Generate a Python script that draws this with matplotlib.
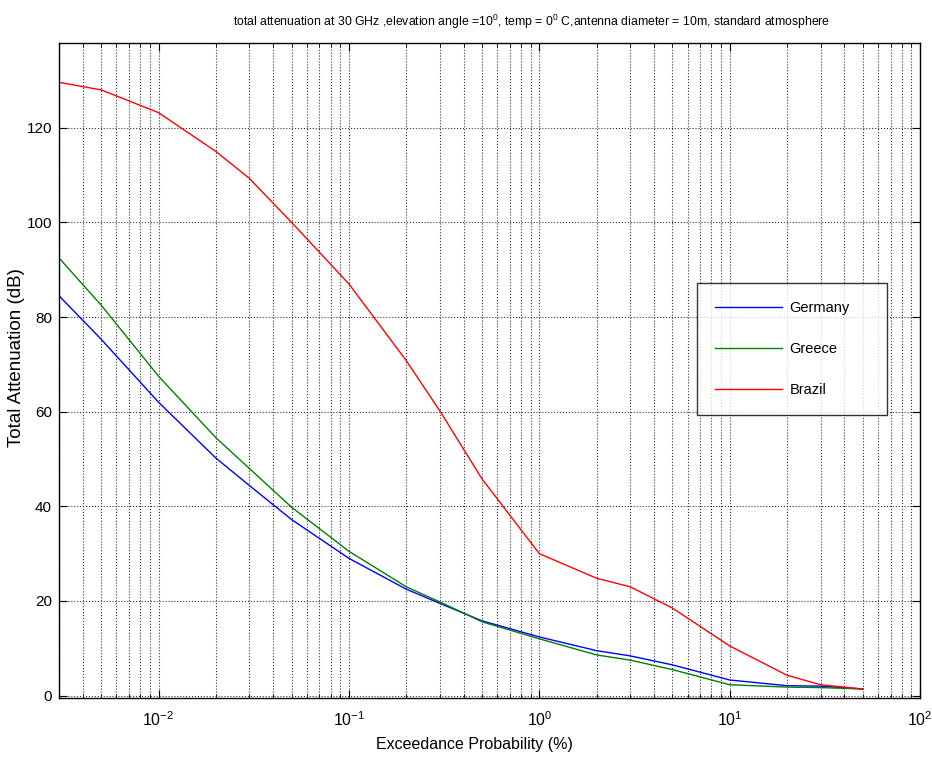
# total attenuation vs exceedance probability, MATLAB-style figure
import numpy as np
import matplotlib
matplotlib.use("Agg")
import matplotlib.pyplot as plt
from matplotlib.ticker import LogLocator, MultipleLocator

plt.rcParams["font.family"] = ["Liberation Sans", "DejaVu Sans"]
plt.rcParams["mathtext.fontset"] = "custom"
plt.rcParams["mathtext.rm"] = "Liberation Sans"
plt.rcParams["mathtext.it"] = "Liberation Sans"
plt.rcParams["mathtext.default"] = "regular"

# Data
probability = [0.003, 0.005, 0.01, 0.02, 0.03, 0.05, 0.1, 0.2, 0.3, 0.5, 1, 2, 3, 5, 10, 20, 30, 50]
germany = [84.5, 75.3, 62, 50.2, 44.4, 37.2, 29, 22.5, 19.5, 15.8, 12.4, 9.5, 8.4, 6.5, 3.3, 2.1, 2.0, 1.4]
greece = [92.5, 82.5, 67.5, 54.5, 48, 39.8, 30.5, 23, 19.8, 15.6, 12, 8.6, 7.5, 5.5, 2.3, 1.8, 1.7, 1.4]
brazil = [129.6, 128, 123.2, 115, 109.3, 100, 87, 70.8, 60.2, 45.8, 30, 24.8, 23, 18.5, 10.5, 4.3, 2.3, 1.4]
series = [("Germany", germany, "#0000ff"), ("Greece", greece, "#008000"), ("Brazil", brazil, "#ff0000")]

fig = plt.figure(figsize=(9.32, 7.63), dpi=100)
ax = fig.add_axes([0.0633, 0.0852, 0.924, 0.859])

for name, values, color in series:
    ax.plot(probability, values, color=color, linewidth=1.0, label=name)

ax.set_xscale("log")
ax.set_xlim(0.003, 100)
ax.set_ylim(-0.5, 138)
ax.yaxis.set_major_locator(MultipleLocator(20))
ax.xaxis.set_major_locator(LogLocator(base=10, numticks=10))
ax.xaxis.set_minor_locator(LogLocator(base=10, subs=np.arange(2, 10), numticks=20))

ax.grid(True, which="major", linestyle=":", color="#333333", linewidth=0.8)
ax.grid(True, which="minor", axis="x", linestyle=":", color="#333333", linewidth=0.8)
ax.tick_params(which="both", direction="in", top=True, right=True)
ax.tick_params(which="major", length=6)
ax.tick_params(which="minor", length=3)
ax.tick_params(axis="x", labelsize=11.5, pad=9)
ax.tick_params(axis="y", labelsize=11, pad=5)
for spine in ax.spines.values():
    spine.set_linewidth(1.0)

ax.set_title("total attenuation at 30 GHz ,elevation angle =10$^0$, temp = 0$^0$ C,antenna diameter = 10m, standard atmosphere",
             fontsize=8.8, x=0.549, pad=12)
ax.set_xlabel("Exceedance Probability (%)", fontsize=11.5)
ax.set_ylabel("Total Attenuation (dB)", fontsize=13.5)
ax.xaxis.set_label_coords(0.482, -0.060)
ax.yaxis.set_label_coords(-0.039, 0.519)

legend = ax.legend(loc="upper left", bbox_to_anchor=(0.741, 0.4366, 0.2207, 0.197), mode="expand",
                   frameon=True, fancybox=False, edgecolor="black", fontsize=10.5,
                   handlelength=4.6, labelspacing=1.85, borderpad=1.25, handletextpad=0.5,
                   borderaxespad=0)
legend.get_frame().set_linewidth(1.0)

fig.savefig("out.png", dpi=100)
